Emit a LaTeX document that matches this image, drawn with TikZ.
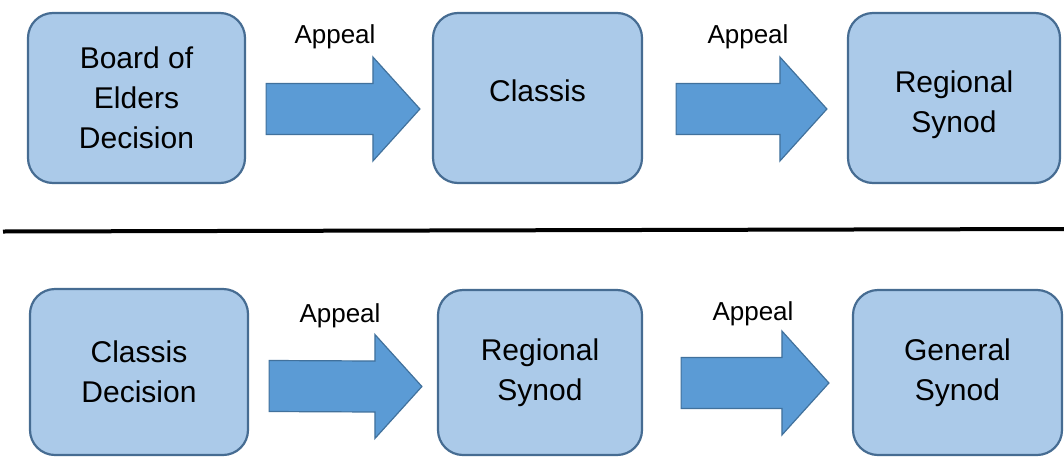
\documentclass[tikz,border=0pt]{standalone}
\usepackage{fontspec}
\setmainfont{Liberation Sans}
\usetikzlibrary{calc}

\definecolor{boxfill}{RGB}{171,202,233}
\definecolor{boxline}{RGB}{70,108,146}
\definecolor{arrowfill}{RGB}{91,155,213}
\definecolor{arrowline}{RGB}{65,113,156}

% block arrow from start coordinate #1 to tip coordinate #2
\newcommand{\appealarrow}[2]{%
  \draw[bigarrow] ($(#1)+(0,-25.5)$) -- ($(#2)+(-47,-25.5)$) -- ($(#2)+(-47,-52)$)
    -- (#2) -- ($(#2)+(-47,52)$) -- ($(#2)+(-47,25.5)$) -- ($(#1)+(0,25.5)$) -- cycle;}

\begin{document}
\begin{tikzpicture}[
		x=1pt, y=-1pt,
		stage/.style={draw=boxline, fill=boxfill, line width=2.2pt, rounded corners=25pt,
			align=center, inner sep=0pt, font=\fontsize{30}{40}\selectfont,
			minimum width=#1, minimum height=168pt},
		bigarrow/.style={draw=arrowline, fill=arrowfill, line width=1.2pt, line join=miter},
		appeal/.style={anchor=base, inner sep=0pt, font=\fontsize{26}{30}\selectfont}
		]
		\useasboundingbox (0,0) rectangle (1064,458);
		
		% top row
		\node[stage=217pt, minimum height=170pt] (b1) at (136.5,98) {Board of\\Elders\\Decision};
		\node[stage=209pt, minimum height=170pt, text depth=14pt] (b2) at (537.5,98) {Classis};
		\node[stage=212pt, minimum height=170pt, text height=76pt] (b3) at (954,98) {Regional\\Synod};
		
		\coordinate (a1s) at ([xshift=20pt,yshift=-11pt]b1.east);
		\coordinate (a1t) at ([xshift=-12pt,yshift=-11pt]b2.west);
		\coordinate (a2s) at ([xshift=33pt,yshift=-11pt]b2.east);
		\coordinate (a2t) at ([xshift=-20pt,yshift=-11pt]b3.west);
		\appealarrow{a1s}{a1t}
		\appealarrow{a2s}{a2t}
		
		\node[appeal] (l1) at (335,43) {Appeal};
		\node[appeal] (l2) at (748,43) {Appeal};
		
		% divider
		\draw[line width=4pt] (3,231.5) -- (1064,229);
		
		% bottom row
		\node[stage=218pt, minimum height=166pt] (c1) at (139,372) {Classis\\Decision};
		\node[stage=204pt, minimum height=165pt] (c2) at (540,372.5) {Regional\\Synod};
		\node[stage=209pt, minimum height=165pt] (c3) at (957.5,372.5) {General\\Synod};
		
		\coordinate (a3s) at ([xshift=20pt,yshift=-14pt]c1.east);
		\coordinate (a3t) at ([xshift=-15pt,yshift=-14pt]c2.west);
		\coordinate (a4s) at ([xshift=38pt,yshift=-10.5pt]c2.east);
		\coordinate (a4t) at ([xshift=-23pt,yshift=-10.5pt]c3.west);
		\appealarrow{a3s}{a3t}
		\appealarrow{a4s}{a4t}
		
		\node[appeal] (l3) at (340,322) {Appeal};
		\node[appeal] (l4) at (753,320) {Appeal};
		
\end{tikzpicture}
\end{document}
